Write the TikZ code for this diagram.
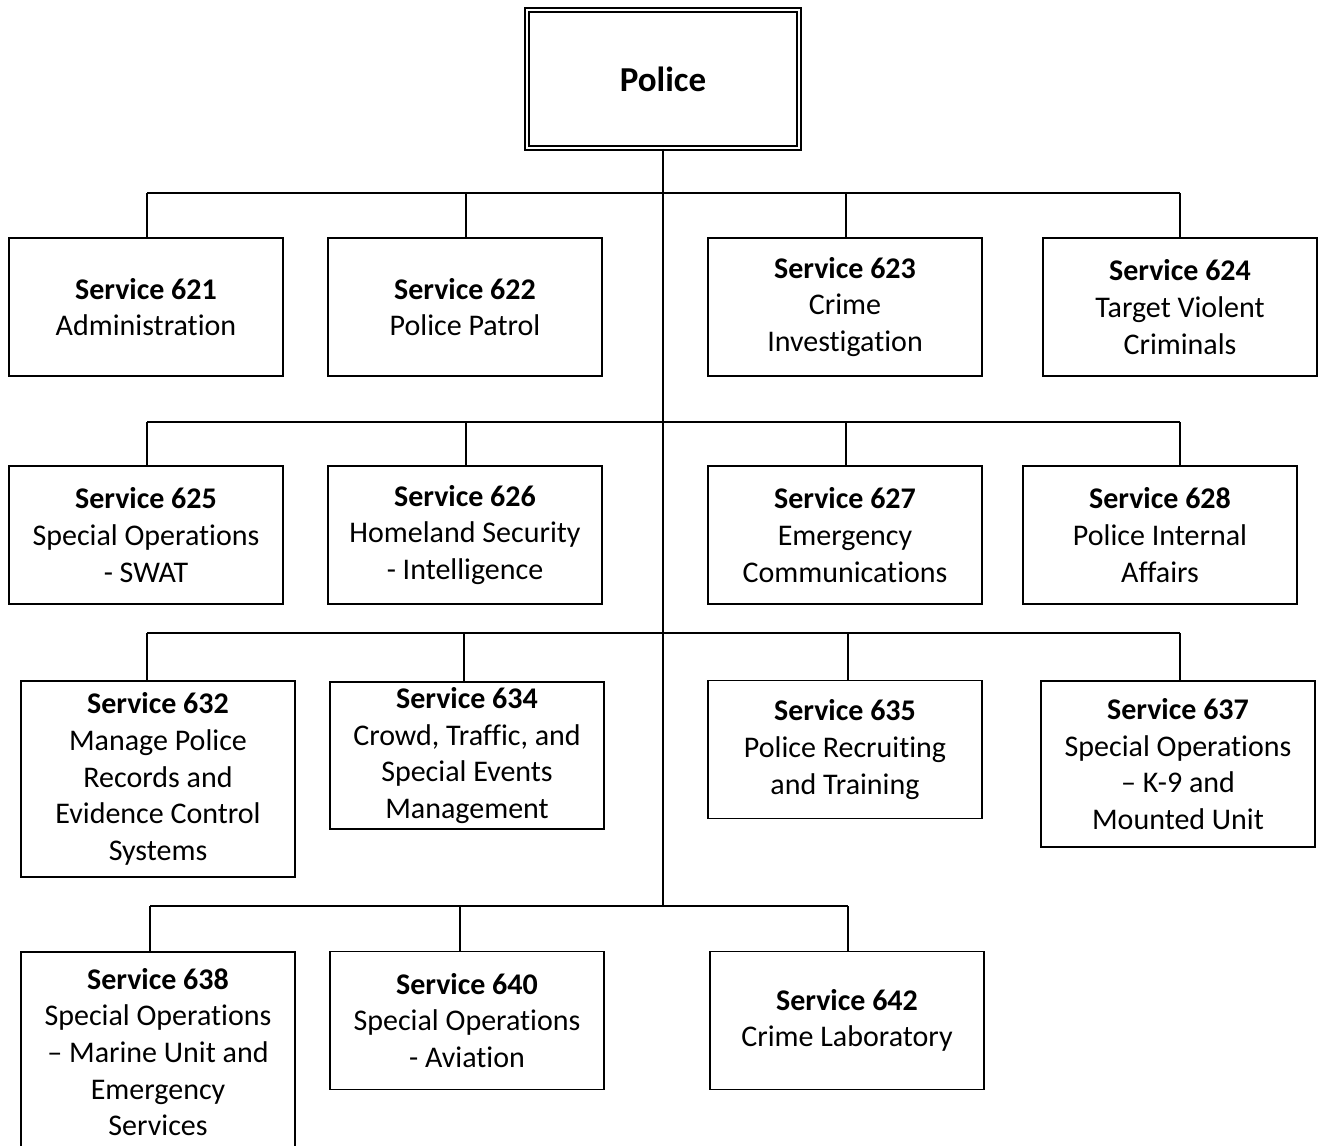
\documentclass[tikz,border=0pt]{standalone}
\usepackage{fontspec}
\setmainfont{Carlito}[Ligatures={TeX,NoCommon}]
\usepackage{tikz}
\usetikzlibrary{positioning}

\begin{document}
\begin{tikzpicture}[
  x=0.5pt, y=-0.5pt,
  every node/.style={font=\fontsize{15pt}{18.3pt}\selectfont, text=black},
  head/.style={
    draw,
    double,
    double distance=1.4pt,
    line width=0.9pt,
    minimum width=136pt,
    minimum height=69pt,
    align=center,
    font=\fontsize{17.5pt}{21pt}\selectfont\bfseries,
  },
  svc/.style={
    draw,
    line width=0.75pt,
    minimum width=137pt,
    minimum height=69pt,
    inner sep=0pt,
    align=center,
  },
  link/.style={
    line width=1pt,
  },
]
  \useasboundingbox (0,0) rectangle (1320,1145);

  \node[head] (police) at (663,79) {Police};

  % first row
  \node[svc] (s621) at (146,307) {\textbf{Service 621}\\Administration};
  \node[svc] (s622) at (465,307) {\textbf{Service 622}\\Police Patrol};
  \node[svc] (s623) at (845,307) {\textbf{Service 623}\\Crime\\Investigation};
  \node[svc] (s624) at (1180,307) {\textbf{Service 624}\\Target Violent\\Criminals};

  % second row
  \node[svc] (s625) at (146,535) {\textbf{Service 625}\\Special Operations\\- SWAT};
  \node[svc] (s626) at (465,535) {\textbf{Service 626}\\Homeland Security\\- Intelligence};
  \node[svc] (s627) at (845,535) {\textbf{Service 627}\\Emergency\\Communications};
  \node[svc] (s628) at (1160,535) {\textbf{Service 628}\\Police Internal\\Affairs};

  % third row
  \node[svc, minimum height=98pt] (s632) at (158,779) {\textbf{Service 632}\\Manage Police\\Records and\\Evidence Control\\Systems};
  \node[svc, minimum height=73.5pt] (s634) at (467,755.5) {\textbf{Service 634}\\Crowd, Traffic, and\\Special Events\\Management};
  \node[svc] (s635) at (845,749.5) {\textbf{Service 635}\\Police Recruiting\\and Training};
  \node[svc, minimum height=83pt] (s637) at (1178,764) {\textbf{Service 637}\\Special Operations\\-- K-9 and\\Mounted Unit};

  % fourth row
  \node[svc, minimum height=100pt] (s638) at (158,1052) {\textbf{Service 638}\\Special Operations\\-- Marine Unit and\\Emergency\\Services};
  \node[svc] (s640) at (467,1020.5) {\textbf{Service 640}\\Special Operations\\- Aviation};
  \node[svc] (s642) at (847,1020.5) {\textbf{Service 642}\\Crime Laboratory};

  % bus points
  \coordinate (b621) at (147,193);
  \coordinate (b622) at (466,193);
  \coordinate (b623) at (846,193);
  \coordinate (b624) at (1180,193);
  \coordinate (b625) at (147,422);
  \coordinate (b626) at (466,422);
  \coordinate (b627) at (846,422);
  \coordinate (b628) at (1180,422);
  \coordinate (b632) at (147,633);
  \coordinate (b634) at (464,633);
  \coordinate (b635) at (848,633);
  \coordinate (b637) at (1180,633);
  \coordinate (b638) at (150,906);
  \coordinate (b640) at (460,906);
  \coordinate (b642) at (848,906);

  \draw[link] (police.south) -- (police.south |- b642);
  \draw[link] (b621) -- (b624);
  \draw[link] (b625) -- (b628);
  \draw[link] (b632) -- (b637);
  \draw[link] (b638) -- (b642);

  \foreach \s in {621,622,623,624,625,626,627,628,632,634,635,637,638,640,642}
    \draw[link] (b\s) -- (b\s |- s\s.north);
\end{tikzpicture}
\end{document}
